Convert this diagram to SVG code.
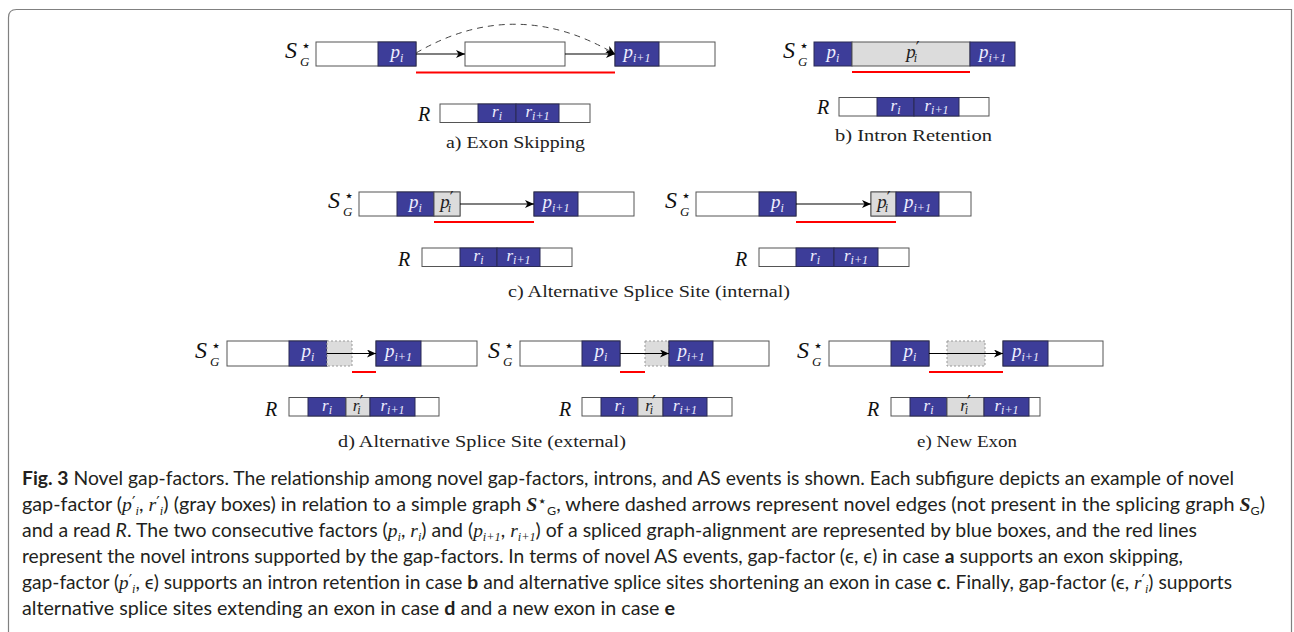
<svg xmlns="http://www.w3.org/2000/svg" width="1294" height="632" viewBox="0 0 1294 632">
<style>
  .w { fill:#fff; stroke:#555; stroke-width:1; }
  .b { fill:#3d3d99; stroke:#2a2a55; stroke-width:1; }
  .g { fill:#dcdcdc; stroke:#555; stroke-width:1; }
  .gd { fill:#dcdcdc; stroke:#999; stroke-width:1; stroke-dasharray:2 2; }
  .red { stroke:#f00; stroke-width:2; }
  .arr { stroke:#000; stroke-width:1.2; fill:none; marker-end:url(#ah); }
  .dash { stroke:#444; stroke-width:1; fill:none; stroke-dasharray:6 5; marker-end:url(#ah); }
  .lb { font-family:"Liberation Serif",serif; font-style:italic; font-size:19px; fill:#eeeeff; text-anchor:middle; }
  .lr { font-family:"Liberation Serif",serif; font-style:italic; font-size:17px; fill:#eeeeff; text-anchor:middle; }
  .dk { fill:#222; }
  .sub { font-size:12px; }
  .pr { font-family:"DejaVu Sans",sans-serif; font-style:normal; font-size:17px; }
  .sg { font-family:"Liberation Serif",serif; font-style:italic; font-size:24px; fill:#111; }
  .st { font-family:"DejaVu Sans",sans-serif; font-style:normal; font-size:16px; }
  .gs { font-size:13px; }
  .rl { font-family:"Liberation Serif",serif; font-style:italic; font-size:20px; fill:#111; }
  .cap { font-family:"Liberation Serif",serif; font-size:17px; fill:#222; text-anchor:middle; }
  .txt { font-family:Lato,"Open Sans",sans-serif; font-size:19px; fill:#231f20; }
  .bf { font-weight:bold; }
  .it { font-style:italic; }
  .m { font-family:"Liberation Serif",serif; font-style:italic; }
  .ms { font-size:12px; }
  .mp { font-family:"DejaVu Sans",sans-serif; font-size:15px; }
</style>
<defs>
  <marker id="ah" markerUnits="userSpaceOnUse" markerWidth="10" markerHeight="8" refX="9" refY="4" orient="auto">
    <path d="M0,0 L9,4 L0,8 L2.5,4 z" fill="#000"/>
  </marker>
</defs>

<!-- frame -->
<path d="M8.5,640 V17.5 Q8.5,9.5 16.5,9.5 H1291.5 V640" fill="none" stroke="#808080" stroke-width="1.2"/>

<!-- a) exon skipping -->
<g id="panel-a">
  <text class="sg" x="285" y="58">S<tspan class="st" x="301" y="51">⋆</tspan><tspan class="gs" x="300" y="66">G</tspan></text>
  <g id="a-exon1"><rect class="w" x="316" y="42" width="100" height="24"/><rect class="b" x="378" y="42" width="38" height="24"/><text class="lb" x="397" y="58">p<tspan class="sub" dy="4">i</tspan></text></g>
  <g id="a-exon2"><rect class="w" x="465" y="42" width="100" height="24"/></g>
  <g id="a-exon3"><rect class="w" x="615" y="42" width="100" height="24"/><rect class="b" x="615" y="42" width="44" height="24"/><text class="lb" x="637" y="58">p<tspan class="sub" dy="4">i+1</tspan></text></g>
  <text class="rl" x="418" y="121">R</text>
  <g id="a-read"><rect class="w" x="440" y="104" width="150" height="18.5"/><rect class="b" x="478" y="104" width="38" height="18.5"/><rect class="b" x="516" y="104" width="43" height="18.5"/><text class="lr" x="497" y="117">r<tspan class="sub" dy="3">i</tspan></text><text class="lr" x="537.5" y="117">r<tspan class="sub" dy="3">i+1</tspan></text></g>
  <text class="cap" x="515.5" y="148" textLength="139" lengthAdjust="spacingAndGlyphs">a) Exon Skipping</text>
</g>

<!-- b) intron retention -->
<g id="panel-b">
  <text class="sg" x="783" y="58">S<tspan class="st" x="799" y="51">⋆</tspan><tspan class="gs" x="798" y="66">G</tspan></text>
  <g id="b-exon"><rect class="b" x="814" y="42" width="38" height="24"/><rect class="g" x="852" y="42" width="118" height="24"/><rect class="b" x="970" y="42" width="45" height="24"/>
    <text class="lb" x="833" y="58">p<tspan class="sub" dy="4">i</tspan></text>
    <text class="lb dk" x="913" y="58">p<tspan class="pr" dy="-4">′</tspan><tspan class="sub" dx="-6" dy="8">i</tspan></text>
    <text class="lb" x="992.5" y="58">p<tspan class="sub" dy="4">i+1</tspan></text></g>
  <text class="rl" x="817" y="114">R</text>
  <g id="b-read"><rect class="w" x="839" y="97.5" width="150" height="18.5"/><rect class="b" x="877" y="97.5" width="37" height="18.5"/><rect class="b" x="914" y="97.5" width="45" height="18.5"/><text class="lr" x="895.5" y="110.5">r<tspan class="sub" dy="3">i</tspan></text><text class="lr" x="936.5" y="110.5">r<tspan class="sub" dy="3">i+1</tspan></text></g>
  <text class="cap" x="913.5" y="141" textLength="157" lengthAdjust="spacingAndGlyphs">b) Intron Retention</text>
</g>

<!-- c) alternative splice site, internal -->
<g id="panel-c1">
  <text class="sg" x="328" y="208">S<tspan class="st" x="344" y="201">⋆</tspan><tspan class="gs" x="343" y="216">G</tspan></text>
  <g id="c1-exon1"><rect class="w" x="359" y="192" width="101" height="24"/><rect class="b" x="397" y="192" width="37" height="24"/><rect class="g" x="434" y="192" width="26" height="24"/>
    <text class="lb" x="415.5" y="208">p<tspan class="sub" dy="4">i</tspan></text>
    <text class="lb dk" x="447" y="208">p<tspan class="pr" dy="-4">′</tspan><tspan class="sub" dx="-6" dy="8">i</tspan></text></g>
  <g id="c1-exon2"><rect class="w" x="534" y="192" width="100" height="24"/><rect class="b" x="534" y="192" width="44" height="24"/><text class="lb" x="556" y="208">p<tspan class="sub" dy="4">i+1</tspan></text></g>
  <text class="rl" x="398" y="266">R</text>
  <g id="c1-read"><rect class="w" x="422" y="248" width="150" height="18.5"/><rect class="b" x="460" y="248" width="37" height="18.5"/><rect class="b" x="497" y="248" width="43" height="18.5"/><text class="lr" x="478.5" y="261">r<tspan class="sub" dy="3">i</tspan></text><text class="lr" x="518.5" y="261">r<tspan class="sub" dy="3">i+1</tspan></text></g>
</g>
<g id="panel-c2">
  <text class="sg" x="665" y="208">S<tspan class="st" x="681" y="201">⋆</tspan><tspan class="gs" x="680" y="216">G</tspan></text>
  <g id="c2-exon1"><rect class="w" x="696" y="192" width="100" height="24"/><rect class="b" x="759" y="192" width="37" height="24"/><text class="lb" x="777.5" y="208">p<tspan class="sub" dy="4">i</tspan></text></g>
  <g id="c2-exon2"><rect class="w" x="871" y="192" width="100" height="24"/><rect class="g" x="871" y="192" width="25" height="24"/><rect class="b" x="896" y="192" width="43" height="24"/>
    <text class="lb dk" x="884" y="208">p<tspan class="pr" dy="-4">′</tspan><tspan class="sub" dx="-6" dy="8">i</tspan></text>
    <text class="lb" x="917.5" y="208">p<tspan class="sub" dy="4">i+1</tspan></text></g>
  <text class="rl" x="735" y="266">R</text>
  <g id="c2-read"><rect class="w" x="759" y="248" width="150" height="18.5"/><rect class="b" x="796" y="248" width="38" height="18.5"/><rect class="b" x="834" y="248" width="44" height="18.5"/><text class="lr" x="815" y="261">r<tspan class="sub" dy="3">i</tspan></text><text class="lr" x="856" y="261">r<tspan class="sub" dy="3">i+1</tspan></text></g>
  <text class="cap" x="649" y="297" textLength="282" lengthAdjust="spacingAndGlyphs">c) Alternative Splice Site (internal)</text>
</g>

<!-- d) alternative splice site, external -->
<g id="panel-d1">
  <text class="sg" x="195" y="358">S<tspan class="st" x="211" y="351">⋆</tspan><tspan class="gs" x="210" y="366">G</tspan></text>
  <g id="d1-exon1"><rect class="w" x="227" y="341" width="100" height="25"/><rect class="b" x="289" y="341" width="38" height="25"/><text class="lb" x="308" y="357">p<tspan class="sub" dy="4">i</tspan></text></g>
  <g id="d1-gap"><rect class="gd" x="327" y="341" width="25" height="25"/></g>
  <g id="d1-exon2"><rect class="w" x="376" y="341" width="101" height="25"/><rect class="b" x="376" y="341" width="45" height="25"/><text class="lb" x="398.5" y="357">p<tspan class="sub" dy="4">i+1</tspan></text></g>
  <text class="rl" x="265" y="416">R</text>
  <g id="d1-read"><rect class="w" x="289" y="397.5" width="150" height="18.5"/><rect class="b" x="308" y="397.5" width="38" height="18.5"/><rect class="g" x="346" y="397.5" width="24" height="18.5"/><rect class="b" x="370" y="397.5" width="45" height="18.5"/>
    <text class="lr" x="327" y="410.5">r<tspan class="sub" dy="3">i</tspan></text>
    <text class="lr dk" x="358" y="410.5">r<tspan class="pr" dy="-3">′</tspan><tspan class="sub" dx="-6" dy="6">i</tspan></text>
    <text class="lr" x="392.5" y="410.5">r<tspan class="sub" dy="3">i+1</tspan></text></g>
</g>
<g id="panel-d2">
  <text class="sg" x="488" y="358">S<tspan class="st" x="504" y="351">⋆</tspan><tspan class="gs" x="503" y="366">G</tspan></text>
  <g id="d2-exon1"><rect class="w" x="520" y="341" width="100" height="25"/><rect class="b" x="582" y="341" width="38" height="25"/><text class="lb" x="601" y="357">p<tspan class="sub" dy="4">i</tspan></text></g>
  <g id="d2-gap"><rect class="gd" x="645" y="341" width="24" height="25"/></g>
  <g id="d2-exon2"><rect class="w" x="669" y="341" width="100" height="25"/><rect class="b" x="669" y="341" width="44" height="25"/><text class="lb" x="691" y="357">p<tspan class="sub" dy="4">i+1</tspan></text></g>
  <text class="rl" x="559" y="416">R</text>
  <g id="d2-read"><rect class="w" x="582" y="397.5" width="150" height="18.5"/><rect class="b" x="601" y="397.5" width="37" height="18.5"/><rect class="g" x="638" y="397.5" width="25" height="18.5"/><rect class="b" x="663" y="397.5" width="44" height="18.5"/>
    <text class="lr" x="619.5" y="410.5">r<tspan class="sub" dy="3">i</tspan></text>
    <text class="lr dk" x="650.5" y="410.5">r<tspan class="pr" dy="-3">′</tspan><tspan class="sub" dx="-6" dy="6">i</tspan></text>
    <text class="lr" x="685" y="410.5">r<tspan class="sub" dy="3">i+1</tspan></text></g>
  <text class="cap" x="482" y="447" textLength="288" lengthAdjust="spacingAndGlyphs">d) Alternative Splice Site (external)</text>
</g>

<!-- e) new exon -->
<g id="panel-e">
  <text class="sg" x="797" y="358">S<tspan class="st" x="813" y="351">⋆</tspan><tspan class="gs" x="812" y="366">G</tspan></text>
  <g id="e-exon1"><rect class="w" x="829" y="341" width="100" height="25"/><rect class="b" x="891" y="341" width="38" height="25"/><text class="lb" x="910" y="357">p<tspan class="sub" dy="4">i</tspan></text></g>
  <g id="e-new"><rect class="gd" x="947" y="341" width="38" height="25"/></g>
  <g id="e-exon2"><rect class="w" x="1003" y="341" width="100" height="25"/><rect class="b" x="1003" y="341" width="45" height="25"/><text class="lb" x="1025.5" y="357">p<tspan class="sub" dy="4">i+1</tspan></text></g>
  <text class="rl" x="867" y="416">R</text>
  <g id="e-read"><rect class="w" x="891" y="397.5" width="149" height="18.5"/><rect class="b" x="910" y="397.5" width="37" height="18.5"/><rect class="g" x="947" y="397.5" width="37" height="18.5"/><rect class="b" x="984" y="397.5" width="45" height="18.5"/>
    <text class="lr" x="928.5" y="410.5">r<tspan class="sub" dy="3">i</tspan></text>
    <text class="lr dk" x="965.5" y="410.5">r<tspan class="pr" dy="-3">′</tspan><tspan class="sub" dx="-6" dy="6">i</tspan></text>
    <text class="lr" x="1006.5" y="410.5">r<tspan class="sub" dy="3">i+1</tspan></text></g>
  <text class="cap" x="967" y="447" textLength="100" lengthAdjust="spacingAndGlyphs">e) New Exon</text>
</g>

<!-- edges between exons -->
<g id="connectors">
  <line class="arr" x1="416" y1="54" x2="465" y2="54"/>
  <line class="arr" x1="565" y1="54" x2="615" y2="54"/>
  <path class="dash" d="M416,53 Q515,-5 615,54"/>
  <line class="arr" x1="460" y1="204" x2="534" y2="204"/>
  <line class="arr" x1="796" y1="204" x2="871" y2="204"/>
  <line class="arr" x1="327" y1="353.5" x2="376" y2="353.5"/>
  <line class="arr" x1="620" y1="353.5" x2="669" y2="353.5"/>
  <line class="arr" x1="929" y1="353.5" x2="1003" y2="353.5"/>
</g>

<!-- novel introns -->
<g id="introns">
  <line class="red" x1="416" y1="72.5" x2="615" y2="72.5"/>
  <line class="red" x1="852" y1="72" x2="970" y2="72"/>
  <line class="red" x1="434" y1="222" x2="534" y2="222"/>
  <line class="red" x1="796" y1="222" x2="896" y2="222"/>
  <line class="red" x1="352" y1="372" x2="376" y2="372"/>
  <line class="red" x1="620" y1="372" x2="645" y2="372"/>
  <line class="red" x1="929" y1="372" x2="1003" y2="372"/>
</g>

<!-- caption -->
<g id="caption" class="txt">
  <text x="22" y="485" textLength="1212" lengthAdjust="spacingAndGlyphs"><tspan class="bf">Fig. 3</tspan> Novel gap-factors. The relationship among novel gap-factors, introns, and AS events is shown. Each subfigure depicts an example of novel</text>
  <text x="22" y="511" textLength="1243" lengthAdjust="spacingAndGlyphs">gap-factor (<tspan class="m">p</tspan><tspan class="mp" dy="-3">′</tspan><tspan class="ms m" dy="7">i</tspan><tspan dy="-4">, </tspan><tspan class="m">r</tspan><tspan class="mp" dy="-3">′</tspan><tspan class="ms m" dy="7">i</tspan><tspan dy="-4">) (gray boxes) in relation to a simple graph </tspan><tspan class="m bf">S</tspan><tspan class="mp" dy="-5">⋆</tspan><tspan class="ms" dy="9">G</tspan><tspan dy="-4">, where dashed arrows represent novel edges (not present in the splicing graph </tspan><tspan class="m bf">S</tspan><tspan class="ms" dy="4">G</tspan><tspan dy="-4">)</tspan></text>
  <text x="22" y="537" textLength="1175" lengthAdjust="spacingAndGlyphs">and a read <tspan class="it">R</tspan>. The two consecutive factors (<tspan class="m">p</tspan><tspan class="ms m" dy="4">i</tspan><tspan dy="-4">, </tspan><tspan class="m">r</tspan><tspan class="ms m" dy="4">i</tspan><tspan dy="-4">) and (</tspan><tspan class="m">p</tspan><tspan class="ms m" dy="4">i+1</tspan><tspan dy="-4">, </tspan><tspan class="m">r</tspan><tspan class="ms m" dy="4">i+1</tspan><tspan dy="-4">) of a spliced graph-alignment are represented by blue boxes, and the red lines</tspan></text>
  <text x="22" y="563" textLength="1161" lengthAdjust="spacingAndGlyphs">represent the novel introns supported by the gap-factors. In terms of novel AS events, gap-factor (ϵ, ϵ) in case <tspan class="bf">a</tspan> supports an exon skipping,</text>
  <text x="22" y="589" textLength="1210" lengthAdjust="spacingAndGlyphs">gap-factor (<tspan class="m">p</tspan><tspan class="mp" dy="-3">′</tspan><tspan class="ms m" dy="7">i</tspan><tspan dy="-4">, ϵ) supports an intron retention in case </tspan><tspan class="bf">b</tspan> and alternative splice sites shortening an exon in case <tspan class="bf">c</tspan>. Finally, gap-factor (ϵ, <tspan class="m">r</tspan><tspan class="mp" dy="-3">′</tspan><tspan class="ms m" dy="7">i</tspan><tspan dy="-4">) supports</tspan></text>
  <text x="22" y="615" textLength="653" lengthAdjust="spacingAndGlyphs">alternative splice sites extending an exon in case <tspan class="bf">d</tspan> and a new exon in case <tspan class="bf">e</tspan></text>
</g>
</svg>
